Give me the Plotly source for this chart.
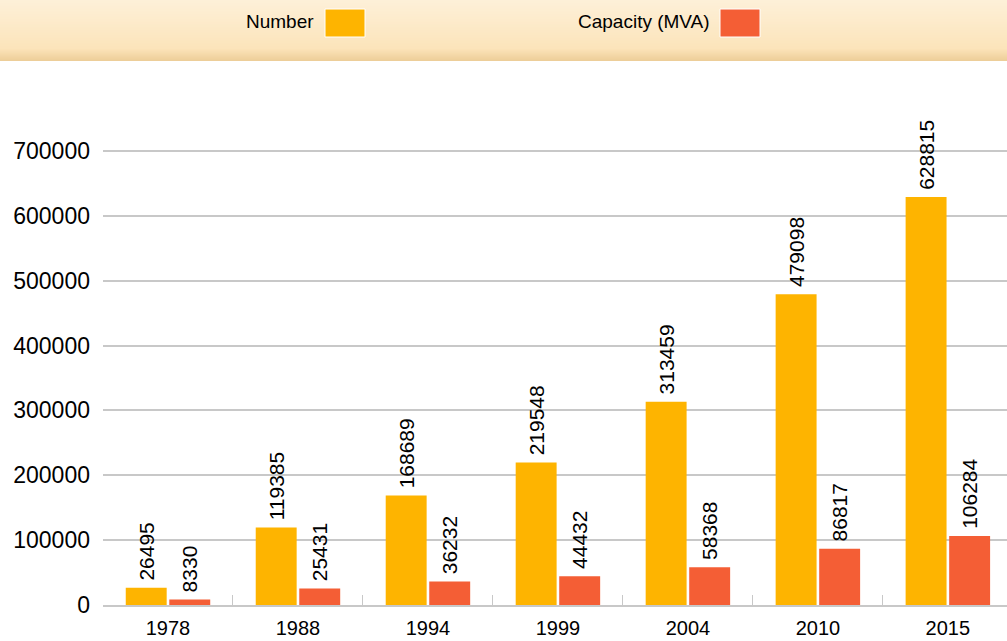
import plotly.graph_objects as go

years = ["1978", "1988", "1994", "1999", "2004", "2010", "2015"]
number = [26495, 119385, 168689, 219548, 313459, 479098, 628815]
capacity = [8330, 25431, 36232, 44432, 58368, 86817, 106284]
series_names = ["Number", "Capacity (MVA)"]
series_colors = ["#FEB400", "#F45E35"]

W, H = 1007, 641
FONT = "Liberation Sans, Arial, sans-serif"

fig = go.Figure()
for name, vals, col in zip(series_names, [number, capacity], series_colors):
    fig.add_trace(go.Bar(
        x=years, y=vals, name=name,
        marker=dict(color=col, line_width=0),
        # thin leading space gives a little more room between bar and label
        text=["\u2009" + str(v) for v in vals],
        textposition="outside",
        textangle=-90,
        constraintext="none",
        cliponaxis=False,
        textfont=dict(family=FONT, size=21, color="#000"),
        hoverinfo="x+y",
    ))

# header band with a vertical gradient built from thin strips
shapes = []
band_h = 61
n = 61
def mix(c1, c2, t):
    return "rgb(%d,%d,%d)" % tuple(round(a + (b - a) * t) for a, b in zip(c1, c2))
top, mid, bot = (253, 240, 216), (252, 228, 186), (236, 204, 150)
for i in range(n):
    y0 = i * band_h / n
    y1 = (i + 1) * band_h / n
    if y0 < 48:
        c = mix(top, mid, y0 / 48)
    else:
        c = mix(mid, bot, (y0 - 48) / 13)
    shapes.append(dict(type="rect", xref="paper", yref="paper", layer="below",
                       x0=0, x1=1, y0=1 - y1 / H, y1=1 - y0 / H,
                       line_width=0, fillcolor=c))

# manual legend: label to the left of its swatch
annotations = []
legend_pos = [(316, 325), (712, 720)]
for (tx, sx), name, col in zip(legend_pos, series_names, series_colors):
    annotations.append(dict(xref="paper", yref="paper", x=tx / W, y=1 - 21 / H,
                            text=name, showarrow=False, xanchor="right", yanchor="middle",
                            font=dict(family=FONT, size=19, color="#000")))
    shapes.append(dict(type="rect", xref="paper", yref="paper",
                       x0=sx / W, x1=(sx + 40) / W, y0=1 - 37 / H, y1=1 - 9 / H,
                       fillcolor=col, line=dict(color="white", width=1)))

fig.update_layout(
    width=W, height=H,
    margin=dict(l=0, r=0, t=0, b=0),
    paper_bgcolor="white", plot_bgcolor="white",
    showlegend=False,
    barmode="group", bargap=0.33, bargroupgap=0.06,
    font=dict(family=FONT, color="#000"),
    shapes=shapes, annotations=annotations,
    xaxis=dict(domain=[103 / W, 1], type="category", range=[-0.5, 6.455],
               showline=True, linecolor="#c8c8c8", linewidth=2,
               ticks="inside", tickson="boundaries", ticklen=10, tickcolor="#c8c8c8",
               tickfont=dict(size=20), ticklabelstandoff=4,
               showgrid=False, automargin=False),
    yaxis=dict(domain=[36 / H, 1 - 86 / H], range=[0, 800000],
               tickvals=[0, 100000, 200000, 300000, 400000, 500000, 600000, 700000],
               ticktext=["0", "100000", "200000", "300000", "400000", "500000", "600000", "700000"],
               showgrid=True, gridcolor="#c8c8c8", gridwidth=2, zeroline=False,
               ticks="", ticklabelstandoff=12, tickfont=dict(size=23),
               automargin=False, fixedrange=True),
)

fig.write_html("out.html", config={"displayModeBar": False},
               post_script="document.body.style.margin='0';document.body.style.overflow='hidden';")
